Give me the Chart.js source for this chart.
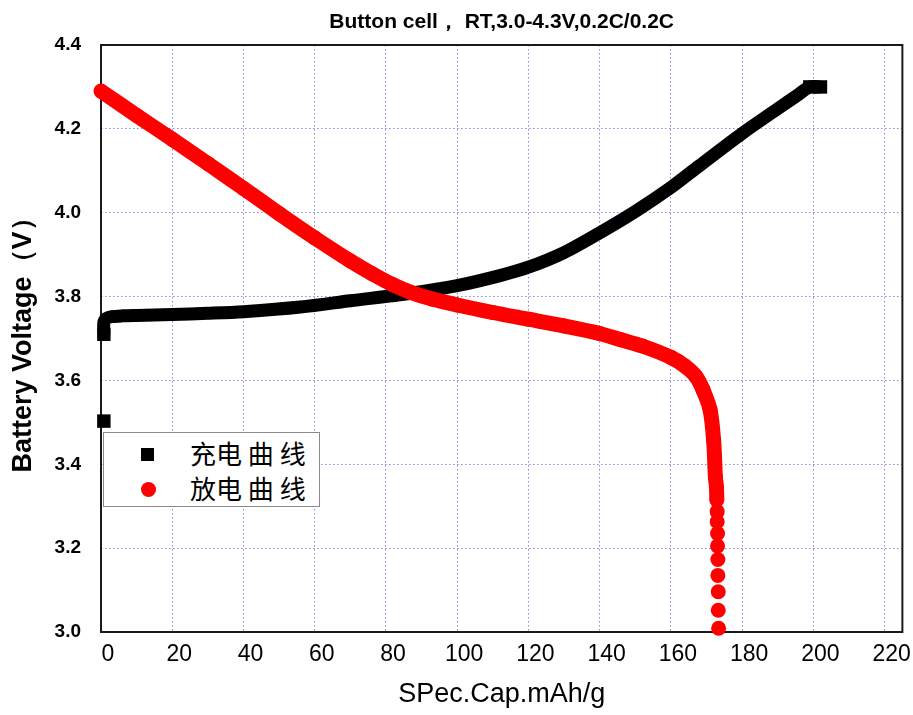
<!DOCTYPE html>
<html>
<head>
<meta charset="utf-8">
<script src="https://cdn.jsdelivr.net/npm/chart.js@4.4.1/dist/chart.umd.min.js"></script>
<style>
  html, body { margin: 0; padding: 0; background: #fff; }
  #wrap { position: relative; width: 913px; height: 715px; }
  #legend {
    position: absolute; left: 103px; top: 432px; width: 217px; height: 75px;
    box-sizing: border-box; border: 1px solid #8a8a8a; background: #fff;
    font-family: "Noto Sans CJK SC", sans-serif; font-size: 26px; color: #000;
  }
  .mark { position: absolute; }
  .txt { position: absolute; left: 86px; line-height: 26px; white-space: pre; }
</style>
</head>
<body>
<div id="wrap">
  <canvas id="chart" width="913" height="715"></canvas>
  <div id="legend"></div>
</div>
<script>
// charge curve (black squares)
const chargeCap = [0.8, 0.8, 0.8, 0.8, 1.5, 3, 6, 10, 20, 30, 40, 56, 70, 87, 100, 112, 120, 130, 140, 150, 160, 168, 180, 190, 196, 199, 202];
const chargeVolt = [3.503, null, 3.71, 3.738, 3.748, 3.752, 3.754, 3.755, 3.757, 3.76, 3.764, 3.775, 3.79, 3.808, 3.826, 3.85, 3.87, 3.905, 3.952, 4.003, 4.06, 4.112, 4.189, 4.248, 4.283, 4.30, 4.30];

// discharge curve (red circles)
const dischargeCap = [0, 10, 20, 30, 40, 50, 60, 70, 76, 82, 87, 93, 100, 110, 120, 130, 140, 146, 152, 160, 164, 167, 169, 171, 172, 172.5, 172.8,
  172.9, 173.0, 173.0, 173.1, 173.1, 173.2, 173.2, 173.3, 173.3, 173.4];
const dischargeVolt = [4.29, 4.232, 4.175, 4.117, 4.058, 3.998, 3.94, 3.885, 3.855, 3.828, 3.81, 3.794, 3.78, 3.762, 3.746, 3.73, 3.712, 3.697, 3.682, 3.655, 3.634, 3.61, 3.578, 3.53, 3.458, 3.37, 3.345,
  3.315, 3.287, 3.263, 3.235, 3.205, 3.173, 3.135, 3.096, 3.052, 3.009];

const seriesLabels = ['充电 曲 线', '放电 曲 线'];
const xTicks = [0, 20, 40, 60, 80, 100, 120, 140, 160, 180, 200, 220];
const yTicks = [3.0, 3.2, 3.4, 3.6, 3.8, 4.0, 4.2, 4.4];

const gridColor = 'rgba(105, 105, 215, 0.8)';
const latin = '"Liberation Sans", Arial, sans-serif';

function toPoints(xs, ys) {
  return xs.map((x, i) => ({ x: x, y: ys[i] }));
}

// plot frame on all four sides
const framePlugin = {
  id: 'frame',
  beforeDatasetsDraw(chart) {
    const { ctx, chartArea: a } = chart;
    ctx.save();
    ctx.strokeStyle = '#1a1a1a';
    ctx.lineWidth = 2;
    ctx.strokeRect(a.left, a.top, a.right - a.left, a.bottom - a.top);
    ctx.restore();
  }
};

const lastCharge = chargeCap.length - 1;

new Chart(document.getElementById('chart'), {
  type: 'scatter',
  data: {
    datasets: [
      {
        label: seriesLabels[0],
        data: toPoints(chargeCap, chargeVolt),
        showLine: true,
        spanGaps: false,
        tension: 0.3,
        borderColor: '#000',
        backgroundColor: '#000',
        borderWidth: 13,
        borderJoinStyle: 'round',
        pointStyle: 'rect',
        // squares only where they show on their own: the lone point, the start and the end
        pointRadius: (ctx) => (ctx.dataIndex === 0 || ctx.dataIndex === 2 || ctx.dataIndex >= lastCharge - 1) ? 9.5 : 0,
        pointBorderWidth: 0,
        clip: false,
        order: 2
      },
      {
        label: seriesLabels[1],
        data: toPoints(dischargeCap, dischargeVolt),
        showLine: true,
        tension: 0.3,
        borderColor: '#ff0000',
        backgroundColor: '#ff0000',
        borderWidth: 15,
        borderJoinStyle: 'round',
        pointStyle: 'circle',
        pointRadius: 7.5,
        pointBorderWidth: 0,
        clip: false,
        order: 1,
        segment: {
          // the low-voltage tail shows as separate dots
          borderColor: (ctx) => ctx.p0.parsed.y < 3.33 ? 'rgba(0,0,0,0)' : undefined
        }
      }
    ]
  },
  options: {
    responsive: false,
    animation: false,
    events: [],
    layout: { padding: { left: 0, right: 10, top: 0, bottom: 0 } },
    plugins: {
      legend: { display: false },
      tooltip: { enabled: false },
      title: {
        display: true,
        fullSize: false,
        text: 'Button cell， RT,3.0-4.3V,0.2C/0.2C',
        color: '#000',
        font: { family: latin, size: 21, weight: 'bold' },
        padding: { top: 9.4, bottom: 10.4 }
      }
    },
    scales: {
      x: {
        type: 'linear',
        min: 0,
        max: 225,
        afterBuildTicks: (s) => { s.ticks = xTicks.map((v) => ({ value: v })); },
        afterFit: (s) => { s.height = 83; },
        grid: { color: gridColor, lineWidth: 1, drawTicks: false },
        border: { display: false, dash: [1.5, 2.5] },
        ticks: {
          color: '#000',
          font: { family: latin, size: 23 },
          padding: 9,
          labelOffset: 7,
          maxRotation: 0,
          autoSkip: false
        },
        title: {
          display: true,
          text: 'SPec.Cap.mAh/g',
          color: '#000',
          font: { family: latin, size: 27 },
          padding: { top: 0, bottom: 4 }
        }
      },
      y: {
        type: 'linear',
        min: 3.0,
        max: 4.4,
        afterBuildTicks: (s) => { s.ticks = yTicks.map((v) => ({ value: v })); },
        afterFit: (s) => { s.width = 101; },
        grid: { color: gridColor, lineWidth: 1, drawTicks: false },
        border: { display: false, dash: [1.5, 2.5] },
        ticks: {
          color: '#000',
          font: { family: latin, size: 19, weight: 'bold' },
          padding: 20,
          callback: (v) => Number(v).toFixed(1)
        },
        title: {
          display: true,
          text: 'Battery Voltage（V）',
          color: '#000',
          font: { family: latin, size: 27, weight: 'bold' },
          padding: { top: 7, bottom: 0 }
        }
      }
    }
  },
  plugins: [framePlugin]
});

// legend box inside the plot
const legend = document.getElementById('legend');
const marks = [
  { css: 'left:37px;top:15px;width:13px;height:13px;background:#000;' },
  { css: 'left:37px;top:49px;width:15px;height:15px;border-radius:50%;background:#ff0000;' }
];
seriesLabels.forEach((label, i) => {
  const m = document.createElement('div');
  m.className = 'mark';
  m.style.cssText = marks[i].css;
  legend.appendChild(m);
  const t = document.createElement('div');
  t.className = 'txt';
  t.style.top = (i === 0 ? 7 : 42) + 'px';
  t.textContent = label;
  legend.appendChild(t);
});
</script>
</body>
</html>
